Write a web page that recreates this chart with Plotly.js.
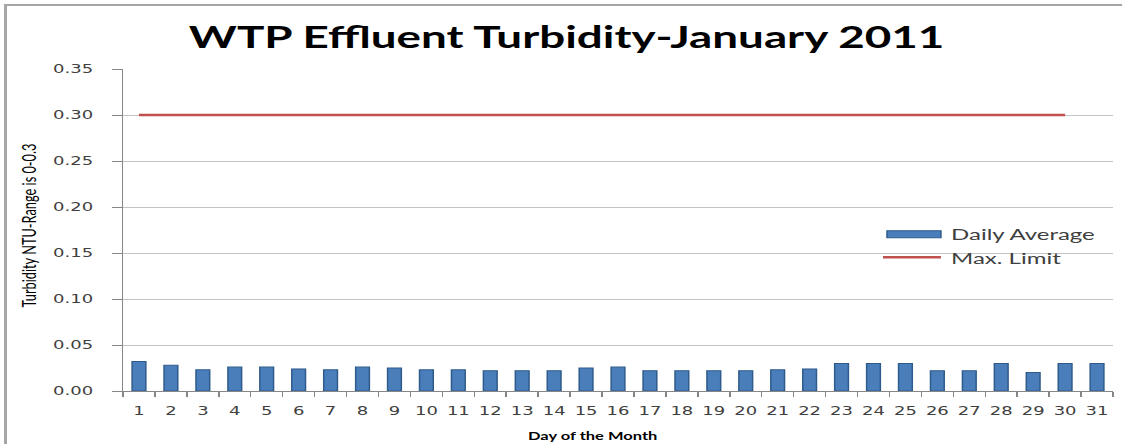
<!DOCTYPE html>
<html>
<head>
<meta charset="utf-8">
<script src="https://cdn.plot.ly/plotly-3.0.1.min.js"></script>
<style>
html,body{margin:0;padding:0;background:#fff;overflow:hidden;width:1122px;height:444px;}
#wrap{position:absolute;left:0;top:0;width:1122px;height:444px;overflow:hidden;}
#chart{position:absolute;left:0;top:0;width:748px;height:444px;transform:scaleX(1.5);transform-origin:0 0;}
#frame{position:absolute;left:4px;top:4px;width:1130px;height:460px;border-left:3px solid #a6a6a6;border-top:2px solid #a6a6a6;pointer-events:none;}
</style>
</head>
<body>
<div id="wrap">
<div id="chart"></div>
<div id="frame"></div>
</div>
<script>
// Data
const days = ["1","2","3","4","5","6","7","8","9","10","11","12","13","14","15","16","17","18","19","20","21","22","23","24","25","26","27","28","29","30","31"];
const dailyAverage = [0.032,0.028,0.023,0.026,0.026,0.024,0.023,0.026,0.025,0.023,0.023,0.022,0.022,0.022,0.025,0.026,0.022,0.022,0.022,0.022,0.023,0.024,0.030,0.030,0.030,0.022,0.022,0.030,0.020,0.030,0.030];
const limitDays = ["1","2","3","4","5","6","7","8","9","10","11","12","13","14","15","16","17","18","19","20","21","22","23","24","25","26","27","28","29","30"];
const maxLimit = [0.3,0.3,0.3,0.3,0.3,0.3,0.3,0.3,0.3,0.3,0.3,0.3,0.3,0.3,0.3,0.3,0.3,0.3,0.3,0.3,0.3,0.3,0.3,0.3,0.3,0.3,0.3,0.3,0.3,0.3];
const yTicks = [0,0.05,0.10,0.15,0.20,0.25,0.30,0.35];
const seriesNames = ['Daily Average', 'Max. Limit'];

const barColor = '#4a7ebb', barEdge = '#2f5b8c', limitColor = '#c0504d';

const traces = [
  {type:'bar', name:seriesNames[0], x:days, y:dailyAverage,
   marker:{color:barColor, line:{color:barEdge, width:1}}},
  {type:'scatter', mode:'lines', name:seriesNames[1], x:limitDays, y:maxLimit,
   line:{color:limitColor, width:2.5}}
];

const font = 'Lato, "Open Sans", "Liberation Sans", sans-serif';
const tickFont = '"DejaVu Sans", Verdana, sans-serif';

const layout = {
  width:748, height:444,
  margin:{l:82, r:6, t:69, b:52.5},
  paper_bgcolor:'rgba(0,0,0,0)', plot_bgcolor:'#fff',
  font:{family:font, color:'#404040', size:10},
  title:{text:'WTP Effluent Turbidity-January 2011', x:0.505, xref:'container', xanchor:'center',
         y:0.915, yref:'container', yanchor:'middle',
         font:{family:font, size:30.5, color:'#000', weight:'bold'}},
  bargap:0.57,
  showlegend:false,
  xaxis:{type:'category', categoryorder:'array', categoryarray:days,
         showline:true, linecolor:'#868686', linewidth:1,
         ticks:'outside', tickson:'boundaries', ticklen:5, tickcolor:'#868686',
         tickangle:0, ticklabelstandoff:9,
         showgrid:false, zeroline:false,
         tickfont:{family:tickFont, size:12, color:'#404040'}},
  yaxis:{range:[0,0.35], tickvals:yTicks, tickformat:'.2f',
         showline:true, linecolor:'#868686', linewidth:1,
         ticks:'outside', ticklen:6.5, tickcolor:'#868686', ticklabelstandoff:10,
         showgrid:true, gridcolor:'#c4c4c4', gridwidth:1, zeroline:false,
         tickfont:{family:tickFont, size:12, color:'#404040'}},
  shapes:[
    {type:'rect', xref:'paper', yref:'paper', x0:0.7717, x1:0.8262, y0:0.476, y1:0.4977,
     fillcolor:barColor, line:{color:barEdge, width:1}},
    {type:'line', xref:'paper', yref:'paper', x0:0.7677, x1:0.8262, y0:0.4155, y1:0.4155,
     line:{color:limitColor, width:2.5}}
  ],
  annotations:[
    {text:seriesNames[0], xref:'paper', yref:'paper', x:0.8333, y:0.4884, xanchor:'left', yanchor:'middle',
     showarrow:false, font:{family:font, size:16, color:'#404040'}},
    {text:seriesNames[1], xref:'paper', yref:'paper', x:0.8333, y:0.4155, xanchor:'left', yanchor:'middle',
     showarrow:false, font:{family:font, size:16, color:'#404040'}},
    {text:'Turbidity NTU-Range is 0-0.3', xref:'paper', yref:'paper', x:-0.0959, y:0.513,
     xanchor:'center', yanchor:'middle', textangle:-90, showarrow:false,
     font:{family:font, size:12.8, color:'#000'}},
    {text:'Day of the Month', xref:'paper', yref:'paper', x:0.4738, y:-0.138,
     xanchor:'center', yanchor:'middle', showarrow:false,
     font:{family:font, size:11, color:'#000', weight:'bold'}}
  ]
};

Plotly.newPlot('chart', traces, layout, {displayModeBar:false, staticPlot:true});
</script>
</body>
</html>
